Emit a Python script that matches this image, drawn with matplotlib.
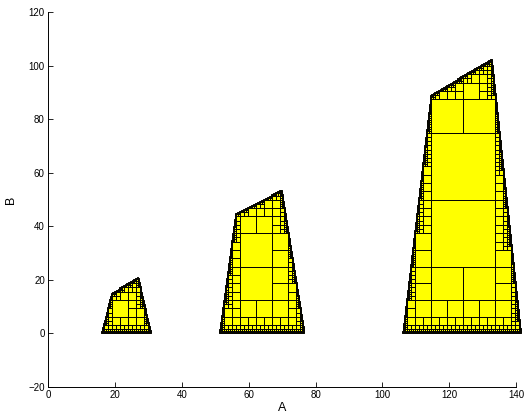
import numpy as np
import matplotlib
matplotlib.use("Agg")
import matplotlib.pyplot as plt
from matplotlib.collections import PolyCollection

# Trapezoid outlines in (A, B), listed counter-clockwise
small_A = [16.0, 30.6, 26.8, 19.0]
small_B = [0.0, 0.0, 20.8, 15.0]
mid_A = [51.2, 76.4, 69.6, 56.0]
mid_B = [0.0, 0.0, 53.5, 44.5]
big_A = [106.2, 141.3, 132.6, 114.6]
big_B = [0.0, 0.0, 102.5, 89.0]

# Quadtree domain and refinement depth
root_A = (0.0, 152.8)
root_B = (0.0, 200.0)
max_depth = 9

x_ticks = [0, 20, 40, 60, 80, 100, 120, 140]
y_ticks = [-20, 0, 20, 40, 60, 80, 100, 120]


def strictly_inside(poly, x, y):
    n = len(poly)
    for i in range(n):
        x0, y0 = poly[i]
        x1, y1 = poly[(i + 1) % n]
        if (x1 - x0) * (y - y0) - (y1 - y0) * (x - x0) <= 1e-9:
            return False
    return True


def overlaps(poly, x0, x1, y0, y1):
    px = [p[0] for p in poly]
    py = [p[1] for p in poly]
    if max(px) <= x0 or min(px) >= x1 or max(py) <= y0 or min(py) >= y1:
        return False
    corners = [(x0, y0), (x1, y0), (x1, y1), (x0, y1)]
    n = len(poly)
    for i in range(n):
        ax, ay = poly[i]
        bx, by = poly[(i + 1) % n]
        if all((bx - ax) * (cy - ay) - (by - ay) * (cx - ax) <= 1e-9
               for cx, cy in corners):
            return False
    return True


def refine(poly, x0, x1, y0, y1, depth, out):
    if not overlaps(poly, x0, x1, y0, y1):
        return
    corners = [(x0, y0), (x1, y0), (x1, y1), (x0, y1)]
    if all(strictly_inside(poly, cx, cy) for cx, cy in corners) or depth == max_depth:
        out.append((depth, corners))
        return
    xm = 0.5 * (x0 + x1)
    ym = 0.5 * (y0 + y1)
    refine(poly, x0, xm, y0, ym, depth + 1, out)
    refine(poly, xm, x1, y0, ym, depth + 1, out)
    refine(poly, x0, xm, ym, y1, depth + 1, out)
    refine(poly, xm, x1, ym, y1, depth + 1, out)


plt.rcParams['font.family'] = ['Liberation Sans', 'DejaVu Sans']
fig = plt.figure(figsize=(5.31, 4.19), dpi=100)
ax = fig.add_axes([0.091, 0.0764, 0.881, 0.894])

cells = []
for xs, ys in [(small_A, small_B), (mid_A, mid_B), (big_A, big_B)]:
    poly = list(zip(xs, ys))
    refine(poly, root_A[0], root_A[1], root_B[0], root_B[1], 0, cells)
cells.sort(key=lambda c: c[0])

coll = PolyCollection([c[1] for c in cells], facecolors=(1.0, 1.0, 0.0),
                      edgecolors='black', linewidths=0.7, clip_on=False)
ax.add_collection(coll)

ax.set_xlim(0, 140)
ax.set_ylim(-20, 120)
ax.set_xticks(x_ticks)
ax.set_yticks(y_ticks)
ax.spines['top'].set_visible(False)
ax.spines['right'].set_visible(False)
for s in ('left', 'bottom'):
    ax.spines[s].set_linewidth(0.7)
ax.tick_params(direction='in', length=3.5, width=0.6, labelsize=7, pad=2.5)
ax.set_xlabel('A', fontsize=9, labelpad=1)
ax.set_ylabel('B', fontsize=9, labelpad=8)

fig.savefig('out.png', dpi=100)
